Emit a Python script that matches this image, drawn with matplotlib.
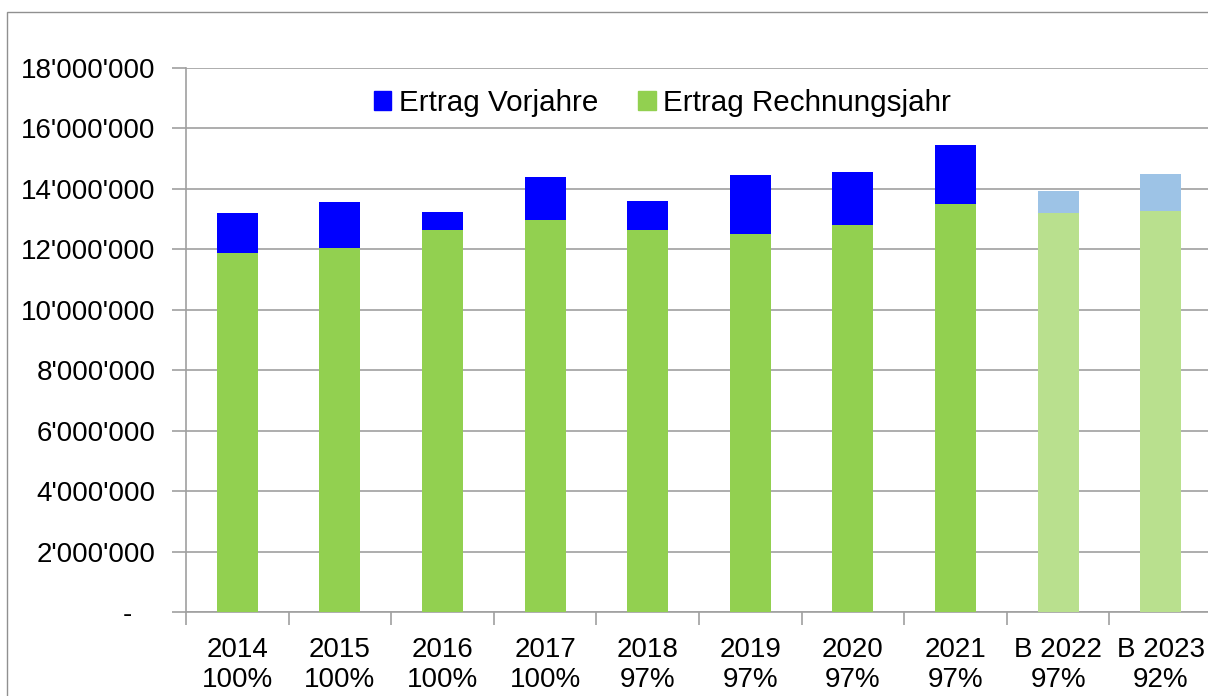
import numpy as np
import matplotlib
matplotlib.use("Agg")
import matplotlib.pyplot as plt
from matplotlib.patches import Rectangle, Patch
from matplotlib.ticker import FuncFormatter

plt.rcParams['font.family'] = ['Liberation Sans', 'DejaVu Sans']

years = ['2014', '2015', '2016', '2017', '2018', '2019', '2020', '2021', 'B 2022', 'B 2023']
pct = ['100%', '100%', '100%', '100%', '97%', '97%', '97%', '97%', '97%', '92%']
rechnungsjahr = [11.88, 12.03, 12.63, 12.98, 12.63, 12.52, 12.80, 13.51, 13.19, 13.26]  # Mio
total = [13.21, 13.56, 13.22, 14.40, 13.59, 14.45, 14.55, 15.46, 13.92, 14.50]  # Mio
budget = [False] * 8 + [True] * 2

green = '#92D050'
blue = '#0000FF'
green_light = '#B9E08E'
blue_light = '#9DC3E6'
grid_c = '#A0A0A0'

rj = np.array(rechnungsjahr) * 1e6
vj = np.array(total) * 1e6 - rj
x = np.arange(len(years)) + 0.5

fig = plt.figure(figsize=(12.08, 6.96), dpi=100)
fig.patches.append(Rectangle((7 / 1208, -0.1), 1.2, (696 - 12) / 696 + 0.1,
                             transform=fig.transFigure, fill=False,
                             edgecolor='#909090', lw=1))
ax = fig.add_axes([186 / 1208, 84 / 696, 1026 / 1208, 544 / 696])

gcol = [green_light if b else green for b in budget]
bcol = [blue_light if b else blue for b in budget]
ax.bar(x, rj, width=0.4, color=gcol, zorder=3)
ax.bar(x, vj, width=0.4, bottom=rj, color=bcol, zorder=3)

ax.set_xlim(0, len(years))
ax.set_ylim(0, 18e6)
ax.set_yticks(np.arange(0, 18e6 + 1, 2e6))
ax.yaxis.set_major_formatter(FuncFormatter(
    lambda v, p: '-   ' if v == 0 else f"{int(v):,}".replace(',', "'")))
ax.grid(axis='y', color=grid_c, lw=1.2, zorder=0)

ax.set_xticks(np.arange(0, len(years) + 1))
ax.set_xticklabels([])
ax.set_xticks(x, minor=True)
ax.set_xticklabels([f"{y}\n{p}" for y, p in zip(years, pct)], minor=True)
ax.tick_params(axis='x', which='major', length=9, color=grid_c, width=1.2)
ax.tick_params(axis='x', which='minor', length=0, pad=18, labelsize=20)
ax.tick_params(axis='y', length=10, color=grid_c, width=1.2, labelsize=20, pad=12)

for s in ['top', 'right']:
    ax.spines[s].set_visible(False)
for s in ['left', 'bottom']:
    ax.spines[s].set_color(grid_c)
    ax.spines[s].set_linewidth(1.2)

handles = [Patch(color=blue), Patch(color=green)]
ax.legend(handles, ['Ertrag Vorjahre', 'Ertrag Rechnungsjahr'], ncol=2,
          loc='center', bbox_to_anchor=(0.4644, 0.936), frameon=False,
          fontsize=21.3, handlelength=0.6, handleheight=0.6,
          handletextpad=0.25, columnspacing=1.35)

fig.savefig('out.png', dpi=100)
